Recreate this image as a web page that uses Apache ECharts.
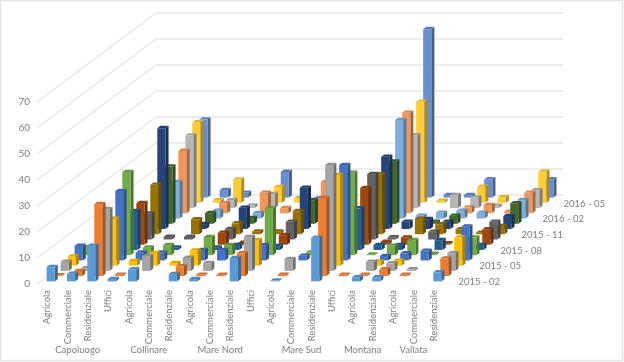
<!DOCTYPE html>
<html><head><meta charset="utf-8">
<style>html,body{margin:0;padding:0;background:#fff}#c{width:624px;height:362px}</style>
<script src="https://cdn.jsdelivr.net/npm/echarts@6/dist/echarts.min.js"></script>
</head><body><div id="c"></div>
<script>
const _ = null;
const categories = ['Agricola','Commerciale','Residenziale','Uffici','Agricola','Commerciale','Residenziale','Agricola','Commerciale','Residenziale','Uffici','Agricola','Commerciale','Residenziale','Uffici','Agricola','Residenziale','Agricola','Commerciale','Residenziale'];
const groupNames = ['Capoluogo','Collinare','Mare Nord','Mare Sud','Montana','Vallata'];
const groupSpans = [[0,3],[4,6],[7,10],[11,14],[15,16],[17,19]];
const months = ['2015 - 02','2015 - 03','2015 - 04','2015 - 05','2015 - 06','2015 - 07','2015 - 08','2015 - 09','2015 - 10','2015 - 11','2015 - 12','2016 - 01','2016 - 02','2016 - 03','2016 - 04','2016 - 05','2016 - 06'];
const yTicks = [0,10,20,30,40,50,60,70];
const s201502 = [5.5,2.9,13.7,.9,4.6,_,2.8,.9,_,9,_,.3,_,16.8,_,1.6,1.6,_,_,3.5];
const s201503 = [.3,2,27.7,.5,_,_,3.8,.5,.5,8.8,_,.5,_,30,.5,.5,2.6,.5,_,6.8];
const s201504 = [3.5,1,23.8,_,5.7,_,5,3,_,13,_,4.6,_,40.7,_,3.5,2.9,.6,_,6.8];
const s201505 = [3.5,_,18,1.8,4.9,1,5.8,_,_,9.9,_,_,_,34.9,_,1.5,1.9,_,_,10.8];
const s201506 = [5.6,_,26.7,3,3,_,4,4,_,5.9,_,1.8,_,36.7,_,1.7,2.7,3.7,_,13];
const s201507 = [3,_,32,2.9,3.9,_,7,3.9,_,18,_,1,_,31.7,.3,3.6,5.8,.5,_,6.8];
const s201508 = [_,_,15,_,.9,_,.9,1.9,_,1.5,_,_,_,16,1.9,1.9,_,3.8,_,1.9];
const s201509 = [_,_,16,_,_,_,4.6,.7,_,3.7,_,_,_,21.8,1.1,2.8,_,.6,_,5.9];
const s201510 = [_,_,10,1,1,_,4,_,_,6.8,_,_,_,25.2,.8,_,3,_,_,6.8];
const s201511 = [_,_,19,_,5.8,_,4.2,1,1,8.9,_,_,_,23.1,_,5.9,3.8,1.9,.6,3.2];
const s201512 = [_,_,38.8,_,1.9,_,8.2,_,_,15.9,_,_,_,27.8,2.8,3.8,2.8,_,_,5];
const s201601 = [_,_,22,_,4.1,_,2.2,_,_,9.1,_,_,_,23.9,_,.8,3.1,_,_,7.9];
const s201602 = [_,_,14,_,3,_,2.1,_,_,7.9,_,_,_,37.9,1.1,2.2,3,2.2,_,7.1];
const s201603 = [_,_,24,_,3.9,_,7.9,2,_,12,_,_,_,38.7,_,_,2.2,3.2,.6,7.9];
const s201604 = [_,_,27.9,_,3.1,1,5.4,_,_,_,_,_,_,28,_,5,4.1,.9,_,6.9];
const s201605 = [_,_,31,1,9,_,6.1,1.8,_,_,_,_,_,38.9,.8,_,6.2,2.1,_,12];
const s201606 = [_,_,30,2.9,1.9,_,9.9,_,_,_,_,_,_,64.8,1,1,7,_,_,7];
const rows = [s201502,s201503,s201504,s201505,s201506,s201507,s201508,s201509,s201510,s201511,s201512,s201601,s201602,s201603,s201604,s201605,s201606];
const colors = ['#5B9BD5','#ED7D31','#A5A5A5','#FFC000','#4472C4','#70AD47','#255E91','#9E480E','#636363','#997300','#264478','#43682B','#7CAFDD','#F1975A','#B7B7B7','#FFCD33','#698ED0'];

const DEPTH_X = 119, DEPTH_Y = 89, N = rows.length;
const textColor = '#7f7f7f', font = 'Lato';
function shade(hex, f){
  const n = parseInt(hex.slice(1),16);
  const c = [n>>16,(n>>8)&255,n&255].map(v=>Math.round(f>1? v+(255-v)*(f-1): v*f));
  return 'rgb('+c.join(',')+')';
}
function barSeries(r){
  const ox = (r+.5)*DEPTH_X/N, oy = (r+.5)*DEPTH_Y/N, col = colors[r];
  return {
    type:'custom', coordinateSystem:'cartesian2d', clip:false, silent:true, animation:false,
    encode:{x:0,y:1},
    data: rows[r].map((v,i)=>[i,v]).filter(d=>d[1]!==null),
    renderItem(params, api){
      const top = api.coord([api.value(0), api.value(1)]);
      const base = api.coord([api.value(0), 0]);
      const w = api.size([1,0])[0]*0.4, sx = 3.1, sy = 2.3;
      const l = top[0]+ox-w/2, rr = top[0]+ox+w/2, t = top[1]-oy, b = base[1]-oy;
      return {type:'group', children:[
        {type:'polygon', shape:{points:[[rr,t],[rr+sx,t-sy],[rr+sx,b-sy],[rr,b]]}, style:{fill:shade(col,.68)}},
        {type:'polygon', shape:{points:[[l,t],[rr,t],[rr+sx,t-sy],[l+sx,t-sy]]}, style:{fill:shade(col,.88)}},
        {type:'rect', shape:{x:l,y:t,width:w,height:Math.max(b-t,0)}, style:{fill:col}}
      ]};
    }
  };
}
const wallSeries = {
  type:'custom', coordinateSystem:'cartesian2d', clip:false, silent:true, animation:false, encode:{x:0,y:1},
  data: yTicks.map(v=>[0,v]),
  renderItem(params, api){
    const p = api.coord([0, api.value(1)]), u = api.size([1,0])[0];
    const x0 = p[0]-u/2, x1 = x0 + u*categories.length;
    return {type:'polyline', shape:{points:[[x0,p[1]],[x0+DEPTH_X,p[1]-DEPTH_Y],[x1+DEPTH_X,p[1]-DEPTH_Y]]},
      style:{stroke:'#e8e8e8',lineWidth:1.3,fill:null}};
  }
};
const groupSeries = {
  type:'custom', coordinateSystem:'cartesian2d', clip:false, silent:true, animation:false, encode:{x:0,y:1},
  data: groupSpans.map((s,i)=>[(s[0]+s[1])/2,0,i]),
  renderItem(params, api){
    const i = api.value(2), s = groupSpans[i];
    const a = api.coord([s[0],0]), b = api.coord([s[1],0]);
    return {type:'text', style:{text:groupNames[i], x:(a[0]+b[0])/2, y:a[1]+66, align:'center', verticalAlign:'middle',
      fill:textColor, fontSize:9.5, fontFamily:font}};
  }
};
const monthSeries = {
  type:'custom', coordinateSystem:'cartesian2d', clip:false, silent:true, animation:false, encode:{x:0,y:1},
  data: months.map((m,r)=>[categories.length-1,0,r]).filter(d=>d[2]%3===0),
  renderItem(params, api){
    const r = api.value(2), p = api.coord([api.value(0),0]), u = api.size([1,0])[0];
    return {type:'text', style:{text:months[r], x:p[0]+u/2+(r+.5)*DEPTH_X/N+11, y:p[1]-(r+.5)*DEPTH_Y/N+0.6,
      align:'left', verticalAlign:'middle', fill:textColor, fontSize:9.5, fontFamily:font}};
  }
};
const chart = echarts.init(document.getElementById('c'),null,{renderer:'canvas'});
const barList = [];
for(let r=N-1;r>=0;r--) barList.push(barSeries(r));
chart.setOption({
  backgroundColor:'#fff', animation:false,
  graphic:[{type:'rect',silent:true,shape:{x:0.5,y:0.5,width:622,height:360},style:{fill:null,stroke:'#e4e4e4',lineWidth:1.5}}],
  grid:{left:37,top:102,width:407,height:182,containLabel:false},
  xAxis:{type:'category',data:categories,axisLine:{show:false},axisTick:{show:false},splitLine:{show:false},
    axisLabel:{interval:0,rotate:90,margin:6,padding:[4,0,0,0],color:textColor,fontSize:9.5,fontFamily:font}},
  yAxis:{type:'value',min:0,max:70,interval:10,axisLine:{show:false},axisTick:{show:false},splitLine:{show:false},
    axisLabel:{margin:7,color:textColor,fontSize:10,fontFamily:font}},
  series:[wallSeries,...barList,groupSeries,monthSeries]
});
</script></body></html>
